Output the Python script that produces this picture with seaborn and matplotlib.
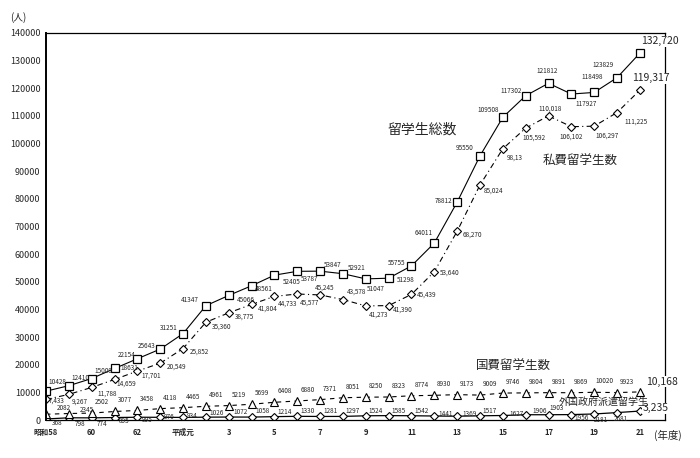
import numpy as np
import pandas as pd
import seaborn as sns
import matplotlib.pyplot as plt

years = list(range(1983, 2010))

total = [10428, 12410, 15009, 18631, 22154, 25643, 31251, 41347, 45066, 48561,
         52405, 53787, 53847, 52921, 51047, 51298, 55755, 64011, 78812, 95550,
         109508, 117302, 121812, 117927, 118498, 123829, 132720]
private = [7433, 9267, 11788, 14659, 17701, 20549, 25852, 35360, 38775, 41804,
           44733, 45577, 45245, 43578, 41273, 41390, 45439, 53640, 68270, 85024,
           98135, 105592, 110018, 106102, 106297, 111225, 119317]
government = [2082, 2345, 2502, 3077, 3458, 4118, 4465, 4961, 5219, 5699,
              6408, 6880, 7371, 8051, 8250, 8323, 8774, 8930, 9173, 9009,
              9746, 9804, 9891, 9869, 10020, 9923, 10168]
foreign = [368, 798, 774, 895, 995, 976, 934, 1026, 1072, 1058,
           1214, 1330, 1281, 1297, 1524, 1585, 1542, 1441, 1369, 1517,
           1627, 1906, 1903, 1956, 2181, 2681, 3235]

tick_years = list(range(1983, 2010, 2))
tick_labels = ['昭和58', '60', '62', '平成元', '3', '5', '7', '9', '11', '13',
               '15', '17', '19', '21']

# label offsets in pixels (dx, dy)
total_off = [(11, 9), (12, 8), (12, 8), (15, 0), (-11, 4), (-14, 3), (-14, 6),
             (-16, 6), (17, -5), (12, -3), (17, -7), (12, -8), (13, 6), (14, 6),
             (10, -10), (17, -2), (-15, 3), (-11, 10), (-14, 1), (-15, 8),
             (-15, 7), (-15, 5), (-1, 12), (15, -10), (-2, 15), (-14, 13), (20, 12)]
private_off = [(11, -1), (11, -7), (15, -6), (12, -4), (14, -5), (16, -3), (16, -3),
               (16, -4), (16, -4), (16, -4), (13, -7), (12, -9), (4, 7), (14, 8),
               (13, -9), (14, -4), (15, 0), (15, -1), (15, -3), (14, -6),
               (12, -9), (8, -10), (2, 7), (0, -10), (13, -9), (19, -9), (11, 12)]
gov_off = [(18, 6), (18, 4)] + [(10, 11)] * 24 + [(22, 10)]
foreign_off = [(11, -4), (11, -6), (10, -6), (10, -3), (10, -3), (9, 0), (9, 1),
               (11, 4), (12, 5), (11, 6), (10, 5), (10, 5), (10, 5), (10, 5),
               (10, 5), (10, 5), (10, 5), (11, 2), (12, 2), (10, 5), (14, 2),
               (14, 4), (8, 7), (10, -3), (7, -6), (4, -6), (16, 3)]

sns.set_style("white")
plt.rcParams['font.family'] = ['Noto Sans CJK JP', 'DejaVu Sans']

fig = plt.figure(figsize=(7, 4.58), dpi=100)
ax = fig.add_axes([46 / 700, 1 - 420 / 458, 619 / 700, 387 / 458])

df = pd.DataFrame({'year': years, 'total': total, 'private': private,
                   'government': government, 'foreign': foreign})

sns.lineplot(data=df, x='year', y='foreign', ax=ax, color='black', lw=0.9,
             marker='D', markersize=4.5, markerfacecolor='white',
             markeredgecolor='black', markeredgewidth=0.8)
sns.lineplot(data=df, x='year', y='government', ax=ax, color='black', lw=0.8,
             dashes=(4, 4), marker='^', markersize=6, markerfacecolor='white',
             markeredgecolor='black', markeredgewidth=0.8)
sns.lineplot(data=df, x='year', y='private', ax=ax, color='black', lw=0.8,
             dashes=(5, 3, 1, 3), marker='D', markersize=4.5,
             markerfacecolor='white', markeredgecolor='black', markeredgewidth=0.8)
sns.lineplot(data=df, x='year', y='total', ax=ax, color='black', lw=0.8,
             marker='s', markersize=5.5, markerfacecolor='white',
             markeredgecolor='black', markeredgewidth=0.9)


def put_labels(values, offsets, fmt, last_big=False):
    n = len(values)
    for i, (yr, v) in enumerate(zip(years, values)):
        big = last_big and i == n - 1
        txt = fmt(v)
        kw = dict(fontsize=7.5 if big else 4.6, ha='center', va='center',
                  textcoords='offset pixels', zorder=5, annotation_clip=False)
        if big:
            kw['bbox'] = dict(boxstyle='square,pad=0.05', fc='white', ec='none')
        ax.annotate(txt, (yr, v), xytext=offsets[i], **kw)


put_labels(total, total_off, lambda v: f"{v}" if v != 132720 else f"{v:,}", True)
put_labels(private, private_off, lambda v: f"{v:,}" if v != 98135 else "98,13", True)
put_labels(government, gov_off, lambda v: f"{v}" if v != 10168 else f"{v:,}", True)
put_labels(foreign, foreign_off, lambda v: f"{v}" if v != 3235 else f"{v:,}", True)

ax.set_xlim(1983, 2010.1)
ax.set_ylim(0, 140000)
ax.set_yticks(np.arange(0, 140001, 10000))
ax.set_yticklabels([str(t) for t in range(0, 140001, 10000)], fontsize=6.5)
ax.set_xticks(tick_years)
ax.set_xticklabels(tick_labels, fontsize=5.5, fontweight='bold')
ax.tick_params(axis='y', direction='in', length=3, width=0.8, pad=4)
ax.tick_params(axis='x', length=0, pad=6)
ax.set_xlabel('')
ax.set_ylabel('')
for s in ax.spines.values():
    s.set_color('black')
    s.set_linewidth(0.9)
ax.spines['left'].set_linewidth(1.4)

fig.text(18 / 700, 1 - 18 / 458, '(人)', fontsize=7, ha='center', va='center')
fig.text(668 / 700, 1 - 435 / 458, '(年度)', fontsize=7.5, ha='center', va='center')
fig.text(422 / 700, 1 - 130 / 458, '留学生総数', fontsize=10, ha='center', va='center')
fig.text(580 / 700, 1 - 161 / 458, '私費留学生数', fontsize=9, ha='center', va='center')
fig.text(513 / 700, 1 - 366 / 458, '国費留学生数', fontsize=9, ha='center', va='center')
fig.text(604 / 700, 1 - 402 / 458, '外国政府派遣留学生', fontsize=7.2, ha='center',
         va='center', zorder=6)

plt.savefig('out.png', dpi=100)
plt.close()
